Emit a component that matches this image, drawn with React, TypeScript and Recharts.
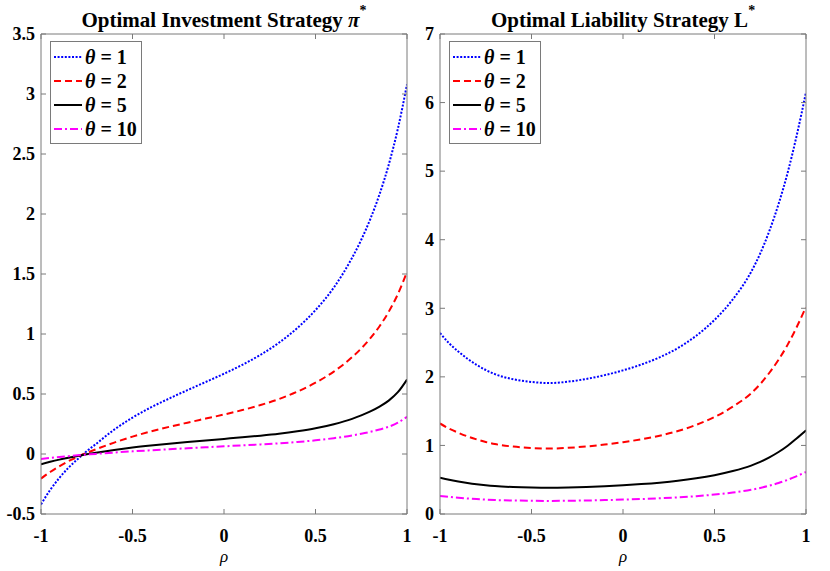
import React from 'react';
import { LineChart, Line, XAxis, YAxis, Legend } from 'recharts';

// ---------- data ----------
const rho = [-1, -0.95, -0.9, -0.85, -0.8, -0.75, -0.7, -0.6, -0.5, -0.4, -0.3, -0.2, -0.1, 0, 0.1, 0.2, 0.3, 0.4, 0.5, 0.6, 0.7, 0.75, 0.8, 0.85, 0.9, 0.95, 1];

// Optimal investment strategy pi*
const pi1 = [-0.42, -0.3, -0.2, -0.115, -0.043, 0.023, 0.083, 0.203, 0.303, 0.388, 0.462, 0.532, 0.6, 0.669, 0.743, 0.827, 0.927, 1.049, 1.199, 1.387, 1.635, 1.785, 1.96, 2.165, 2.41, 2.71, 3.08];
const pi2 = [-0.205, -0.15, -0.103, -0.06, -0.024, 0.009, 0.039, 0.095, 0.145, 0.188, 0.226, 0.261, 0.295, 0.329, 0.366, 0.408, 0.458, 0.519, 0.594, 0.687, 0.807, 0.88, 0.965, 1.065, 1.185, 1.332, 1.517];
const pi5 = [-0.085, -0.065, -0.047, -0.031, -0.016, -0.002, 0.011, 0.034, 0.054, 0.071, 0.086, 0.1, 0.113, 0.126, 0.139, 0.153, 0.169, 0.189, 0.214, 0.248, 0.293, 0.322, 0.355, 0.395, 0.445, 0.515, 0.62];
const pi10 = [-0.042, -0.033, -0.025, -0.018, -0.011, -0.005, 0.001, 0.012, 0.022, 0.031, 0.04, 0.048, 0.056, 0.064, 0.072, 0.08, 0.089, 0.1, 0.114, 0.132, 0.155, 0.169, 0.185, 0.204, 0.227, 0.261, 0.31];

// Optimal liability strategy L*
const L1 = [2.64, 2.49, 2.37, 2.265, 2.175, 2.1, 2.04, 1.965, 1.925, 1.91, 1.93, 1.97, 2.025, 2.095, 2.18, 2.285, 2.42, 2.6, 2.83, 3.13, 3.53, 3.8, 4.13, 4.52, 4.98, 5.53, 6.15];
const L2 = [1.32, 1.245, 1.185, 1.132, 1.088, 1.05, 1.02, 0.983, 0.963, 0.955, 0.965, 0.985, 1.012, 1.047, 1.09, 1.142, 1.21, 1.3, 1.415, 1.565, 1.76, 1.895, 2.06, 2.25, 2.47, 2.73, 3.02];
const L5 = [0.528, 0.498, 0.474, 0.453, 0.435, 0.42, 0.408, 0.393, 0.385, 0.382, 0.386, 0.394, 0.405, 0.419, 0.436, 0.457, 0.484, 0.52, 0.566, 0.626, 0.706, 0.76, 0.826, 0.904, 0.996, 1.106, 1.22];
const L10 = [0.264, 0.249, 0.237, 0.227, 0.218, 0.21, 0.204, 0.197, 0.193, 0.191, 0.193, 0.197, 0.203, 0.21, 0.218, 0.229, 0.242, 0.26, 0.283, 0.313, 0.353, 0.38, 0.413, 0.452, 0.498, 0.553, 0.612];

const thetaLabels = ['1', '2', '5', '10'];
const xTicks = [-1, -0.5, 0, 0.5, 1];
const piTicks = [-0.5, 0, 0.5, 1, 1.5, 2, 2.5, 3, 3.5];
const LTicks = [0, 1, 2, 3, 4, 5, 6, 7];

// ---------- styles ----------
const FONT = '"Liberation Serif", "Times New Roman", Times, serif';
const AXIS = '#7a7a7a';
const TL = 5;
const seriesStyle = [
  { key: 't1', color: '#0000ff', dash: '2 1.6' },
  { key: 't2', color: '#ff0000', dash: '7 4' },
  { key: 't5', color: '#000000', dash: undefined as string | undefined },
  { key: 't10', color: '#ff00ff', dash: '8 3 2 3' },
];

const piData = rho.map((r, i) => ({ rho: r, t1: pi1[i], t2: pi2[i], t5: pi5[i], t10: pi10[i] }));
const LData = rho.map((r, i) => ({ rho: r, t1: L1[i], t2: L2[i], t5: L5[i], t10: L10[i] }));

const fmt = (v: number) => String(v);

const BottomTick = (props: any) => {
  const { x, y, payload } = props;
  return (
    <g>
      <line x1={x} x2={x} y1={y} y2={y - TL} stroke={AXIS} />
      <text x={x} y={y + 28} textAnchor="middle" fontFamily={FONT} fontWeight="bold" fontSize={18} fill="#000">{fmt(payload.value)}</text>
    </g>
  );
};
const TopTick = (props: any) => {
  const { x, y } = props;
  return <line x1={x} x2={x} y1={y} y2={y + TL} stroke={AXIS} />;
};
const LeftTick = (props: any) => {
  const { x, y, payload } = props;
  return (
    <g>
      <line x1={x} x2={x + TL} y1={y} y2={y} stroke={AXIS} />
      <text x={x - 6} y={y} dy="0.35em" textAnchor="end" fontFamily={FONT} fontWeight="bold" fontSize={18} fill="#000">{fmt(payload.value)}</text>
    </g>
  );
};
const RightTick = (props: any) => {
  const { x, y } = props;
  return <line x1={x} x2={x - TL} y1={y} y2={y} stroke={AXIS} />;
};

const LegendBox = () => (
  <div style={{ width: 90, height: 98, border: '1px solid #7a7a7a', background: '#fff', boxSizing: 'content-box', paddingTop: 3 }}>
    {seriesStyle.map((s, i) => (
      <div key={s.key} style={{ display: 'flex', alignItems: 'center', height: 24 }}>
        <svg width={32} height={24} style={{ display: 'block' }}>
          <line x1={3} x2={31} y1={12} y2={12} stroke={s.color} strokeWidth={2} strokeDasharray={s.dash} />
        </svg>
        <span style={{ fontFamily: FONT, fontWeight: 'bold', fontSize: 20, lineHeight: '24px', color: '#000', whiteSpace: 'nowrap', marginLeft: 2 }}>
          <i>θ</i> = {thetaLabels[i]}
        </span>
      </div>
    ))}
  </div>
);

function Panel(props: { data: any[]; domain: [number, number]; ticks: number[]; ml: number; mr: number; legendLeft: number }) {
  const { data, domain, ticks, ml, mr, legendLeft } = props;
  return (
    <LineChart width={415} height={571} data={data} margin={{ top: 33, right: mr - 1, bottom: 56, left: ml - 1 }}>
      <XAxis xAxisId="b" dataKey="rho" type="number" domain={[-1, 1]} ticks={xTicks} interval={0} height={1}
        tickSize={0} tickMargin={0} tick={<BottomTick />} tickLine={false} axisLine={{ stroke: AXIS }} allowDataOverflow />
      <XAxis xAxisId="t" orientation="top" dataKey="rho" type="number" domain={[-1, 1]} ticks={xTicks} interval={0} height={1}
        tickSize={0} tickMargin={0} tick={<TopTick />} tickLine={false} axisLine={{ stroke: AXIS }} allowDataOverflow />
      <YAxis yAxisId="l" type="number" domain={domain} ticks={ticks} interval={0} width={1}
        tickSize={0} tickMargin={0} tick={<LeftTick />} tickLine={false} axisLine={{ stroke: AXIS }} allowDataOverflow />
      <YAxis yAxisId="r" orientation="right" type="number" domain={domain} ticks={ticks} interval={0} width={1}
        tickSize={0} tickMargin={0} tick={<RightTick />} tickLine={false} axisLine={{ stroke: AXIS }} allowDataOverflow />
      <Legend layout="horizontal" verticalAlign="middle" align="center" content={() => <LegendBox />}
        wrapperStyle={{ left: legendLeft, top: 41, width: 92, height: 102 }} />
      {seriesStyle.map((s, i) => (
        <Line key={s.key} xAxisId="b" yAxisId="l" type="monotone" dataKey={s.key} name={`θ = ${thetaLabels[i]}`}
          stroke={s.color} strokeWidth={2} strokeDasharray={s.dash} dot={false} isAnimationActive={false} />
      ))}
    </LineChart>
  );
}

export default function App() {
  return (
    <div style={{ position: 'absolute', left: 0, top: 0, width: 830, height: 571, background: '#fff' }}>
      <div style={{ position: 'absolute', left: 0, top: 0 }}>
        <Panel data={piData} domain={[-0.5, 3.5]} ticks={piTicks} ml={41} mr={8} legendLeft={50} />
      </div>
      <div style={{ position: 'absolute', left: 415, top: 0 }}>
        <Panel data={LData} domain={[0, 7]} ticks={LTicks} ml={25} mr={24} legendLeft={34} />
      </div>
      <svg width={830} height={571} style={{ position: 'absolute', left: 0, top: 0, pointerEvents: 'none' }}>
        <text x={224} y={27} textAnchor="middle" fontFamily={FONT} fontWeight="bold" fontSize={21} fill="#000">
          Optimal Investment Strategy <tspan fontStyle="italic">π</tspan><tspan fontSize={14} dy={-12}>*</tspan>
        </text>
        <text x={623} y={27} textAnchor="middle" fontFamily={FONT} fontWeight="bold" fontSize={21} fill="#000">
          Optimal Liability Strategy L<tspan fontSize={14} dy={-12}>*</tspan>
        </text>
        <text x={224} y={562} textAnchor="middle" fontFamily={FONT} fontStyle="italic" fontSize={17} fill="#000">ρ</text>
        <text x={623} y={562} textAnchor="middle" fontFamily={FONT} fontStyle="italic" fontSize={17} fill="#000">ρ</text>
      </svg>
    </div>
  );
}
